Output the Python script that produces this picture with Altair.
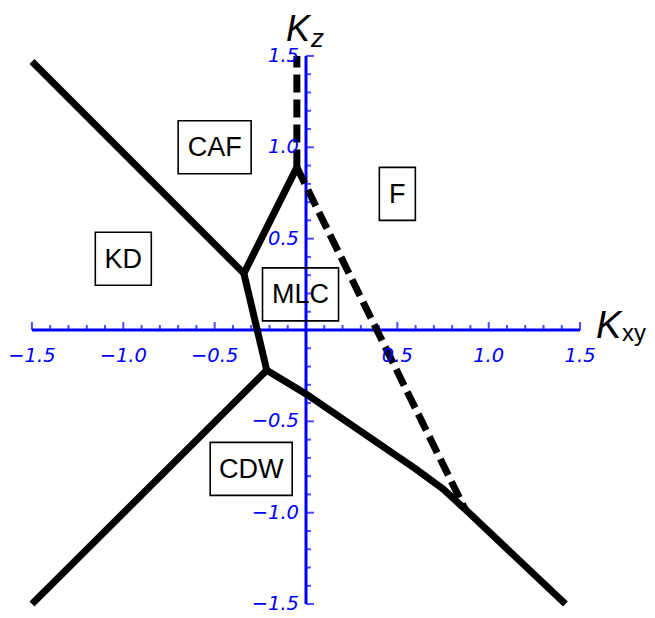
import altair as alt
import pandas as pd

# ---------------- data (Kxy, Kz) ----------------
# solid phase boundaries
kd_caf_x = [-1.50, -0.34]
kd_caf_y = [1.47, 0.31]
caf_mlc_x = [-0.34, -0.05]
caf_mlc_y = [0.31, 0.89]
kd_mlc_x = [-0.34, -0.215]
kd_mlc_y = [0.31, -0.22]
kd_cdw_x = [-0.215, -1.50]
kd_cdw_y = [-0.22, -1.50]
mlc_cdw_x = [-0.215, 0.0, 0.60, 0.75, 0.87]
mlc_cdw_y = [-0.22, -0.35, -0.76, -0.87, -0.98]
f_cdw_x = [0.87, 1.42]
f_cdw_y = [-0.98, -1.50]
# dashed phase boundaries
caf_f_x = [-0.05, -0.05]
caf_f_y = [0.89, 1.50]
mlc_f_x = [-0.05, 0.87]
mlc_f_y = [0.89, -0.98]

# phase labels
phase_names = ["CAF", "F", "KD", "MLC", "CDW"]
phase_x = [-0.50, 0.50, -1.00, -0.03, -0.30]
phase_y = [1.00, 0.745, 0.39, 0.195, -0.76]

# axis ticks
major_ticks = [-1.5, -1.0, -0.5, 0.5, 1.0, 1.5]
tick_labels = ["\u22121.5", "\u22121.0", "\u22120.5", "0.5", "1.0", "1.5"]
minor_ticks = [round(i * 0.1, 1) for i in range(-15, 16) if i % 5 != 0]

# ---------------- styles / layout ----------------
W, H = 639, 610
PX = 182.7            # pixels per unit
X0, Y0 = 298, 322     # pixel position of origin in view
xdom = [-X0 / PX, (W - X0) / PX]
ydom = [(Y0 - H) / PX, Y0 / PX]
box_w = {"CAF": 73, "F": 36, "KD": 56, "MLC": 76, "CDW": 82}
box_h = 53
BLUE = "#0000ff"
FONT = "Liberation Sans"
TFONT = "DejaVu Sans"

xs = alt.Scale(domain=xdom, nice=False, zero=False)
ys = alt.Scale(domain=ydom, nice=False, zero=False)
X = lambda f="x": alt.X(f"{f}:Q", scale=xs, axis=None)
Y = lambda f="y": alt.Y(f"{f}:Q", scale=ys, axis=None)

# ---------------- tables ----------------
segs = [
    ("kd_caf", kd_caf_x, kd_caf_y, "solid"),
    ("caf_mlc", caf_mlc_x, caf_mlc_y, "solid"),
    ("kd_mlc", kd_mlc_x, kd_mlc_y, "solid"),
    ("kd_cdw", kd_cdw_x, kd_cdw_y, "solid"),
    ("mlc_cdw", mlc_cdw_x, mlc_cdw_y, "solid"),
    ("f_cdw", f_cdw_x, f_cdw_y, "solid"),
    ("caf_f", caf_f_x, caf_f_y, "dashed"),
    ("mlc_f", mlc_f_x, mlc_f_y, "dashed"),
]
rows = []
for name, sx, sy, st in segs:
    for i, (a, b) in enumerate(zip(sx, sy)):
        rows.append({"seg": name, "o": i, "x": a, "y": b, "style": st})
lines = pd.DataFrame(rows)

phases = pd.DataFrame({"name": phase_names, "x": phase_x, "y": phase_y})
phases["x1"] = [x - box_w[n] / 2 / PX for n, x in zip(phase_names, phase_x)]
phases["x2"] = [x + box_w[n] / 2 / PX for n, x in zip(phase_names, phase_x)]
phases["y1"] = [y - box_h / 2 / PX for y in phase_y]
phases["y2"] = [y + box_h / 2 / PX for y in phase_y]

axes_df = pd.DataFrame({"x": [-1.5, 0.0], "x2": [1.5, 0.0], "y": [0.0, -1.5], "y2": [0.0, 1.5]})
maj = pd.DataFrame({"v": major_ticks, "label": tick_labels, "zero": 0.0})
mino = pd.DataFrame({"v": minor_ticks, "zero": 0.0})

# ---------------- layers ----------------
axis_lines = alt.Chart(axes_df).mark_rule(color=BLUE, strokeWidth=3).encode(
    x=X(), x2="x2:Q", y=Y(), y2="y2:Q")

xt_min = alt.Chart(mino).mark_tick(orient="vertical", size=5, thickness=2, color=BLUE,
                                   yOffset=-2.5).encode(x=X("v"), y=Y("zero"))
xt_maj = alt.Chart(maj).mark_tick(orient="vertical", size=8, thickness=2, color=BLUE,
                                  yOffset=-4).encode(x=X("v"), y=Y("zero"))
yt_min = alt.Chart(mino).mark_tick(orient="horizontal", size=5, thickness=2, color=BLUE,
                                   xOffset=2.5).encode(x=X("zero"), y=Y("v"))
yt_maj = alt.Chart(maj).mark_tick(orient="horizontal", size=8, thickness=2, color=BLUE,
                                  xOffset=4).encode(x=X("zero"), y=Y("v"))

xlab = alt.Chart(maj).mark_text(font=TFONT, fontSize=19.5, fontStyle="italic", color=BLUE,
                                baseline="middle", align="center", dy=26).encode(
    x=X("v"), y=Y("zero"), text="label:N")
ylab = alt.Chart(maj).mark_text(font=TFONT, fontSize=19.5, fontStyle="italic", color=BLUE,
                                baseline="middle", align="right", dx=-7).encode(
    x=X("zero"), y=Y("v"), text="label:N")

solid = alt.Chart(lines).transform_filter(alt.datum.style == "solid").mark_line(
    color="black", strokeWidth=7, strokeCap="butt", strokeJoin="miter").encode(
    x=X(), y=Y(), detail="seg:N", order="o:Q")
dashed = alt.Chart(lines).transform_filter(alt.datum.style == "dashed").mark_line(
    color="black", strokeWidth=7, strokeCap="butt", strokeDash=[18, 7]).encode(
    x=X(), y=Y(), detail="seg:N", order="o:Q")

boxes = alt.Chart(phases).mark_rect(fillOpacity=0, stroke="black", strokeWidth=1.6).encode(
    x=X("x1"), x2="x2:Q", y=Y("y1"), y2="y2:Q")
ptext = alt.Chart(phases).mark_text(font=FONT, fontSize=27, color="black",
                                    baseline="middle", align="center", dy=1).encode(
    x=X(), y=Y(), text="name:N")

corner = pd.DataFrame({"x": [0.0, 1.5], "y": [1.5, 0.0]})
kz_K = alt.Chart(corner.iloc[[0]]).mark_text(font=FONT, fontSize=36, fontStyle="italic",
        color="black", align="left", baseline="alphabetic", dx=-20, dy=-15).encode(
    x=X(), y=Y(), text=alt.value("K"))
kz_z = alt.Chart(corner.iloc[[0]]).mark_text(font=FONT, fontSize=26, fontStyle="italic",
        color="black", align="left", baseline="alphabetic", dx=5, dy=-9).encode(
    x=X(), y=Y(), text=alt.value("z"))
kx_K = alt.Chart(corner.iloc[[1]]).mark_text(font=FONT, fontSize=38, fontStyle="italic",
        color="black", align="left", baseline="alphabetic", dx=16, dy=8).encode(
    x=X(), y=Y(), text=alt.value("K"))
kx_xy = alt.Chart(corner.iloc[[1]]).mark_text(font=FONT, fontSize=24,
        color="black", align="left", baseline="alphabetic", dx=42, dy=11).encode(
    x=X(), y=Y(), text=alt.value("xy"))

chart = alt.layer(
    axis_lines, xt_min, xt_maj, yt_min, yt_maj,
    solid, dashed, boxes, ptext, xlab, ylab,
    kz_K, kz_z, kx_K, kx_xy,
).properties(
    width=W, height=H, autosize=alt.AutoSizeParams(type="none"), padding=0,
    background="white",
).configure_view(stroke=None)

chart.save("out.html", embed_options={"renderer": "svg", "actions": False})
